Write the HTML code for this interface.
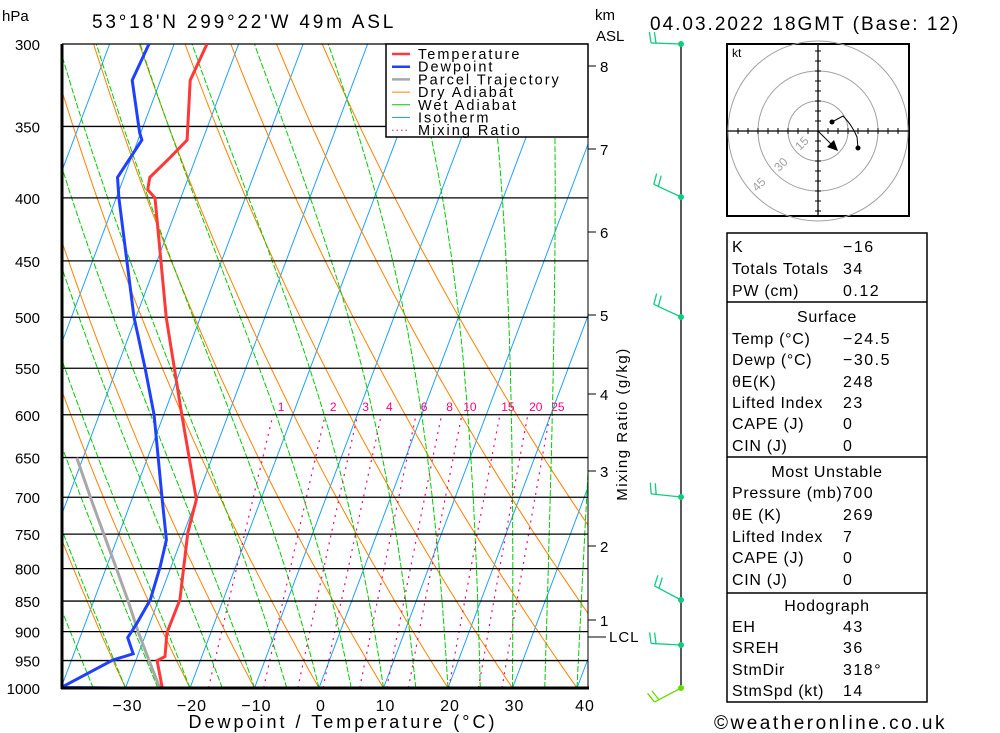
<!DOCTYPE html>
<html><head><meta charset="utf-8">
<style>
html,body{margin:0;padding:0;background:#fff;}
svg{display:block;font-family:"Liberation Sans",sans-serif;}
</style></head>
<body>
<svg id="chart" width="1000" height="733" viewBox="0 0 1000 733" xmlns="http://www.w3.org/2000/svg">
<defs><clipPath id="plotclip"><rect x="62" y="44" width="526" height="644"/></clipPath></defs>
<g id="bg" clip-path="url(#plotclip)"></g>
<g id="grid"></g>
<g id="series" clip-path="url(#plotclip)"></g>
<g id="axes"></g>
<g id="legend"></g>
<g id="winds"></g>
<g id="hodo"></g>
<g id="table"></g>
</svg>
<script>
const pressureLevels=[300,350,400,450,500,550,600,650,700,750,800,850,900,950,1000];
const tempTicks=[-30,-20,-10,0,10,20,30,40];
const tempP=[1000,950,943,902,848,748,703,600,500,400,394,385,371,359,321,300];
const tempT=[-24.3,-26.7,-25.7,-26.8,-26.7,-29.4,-30,-37.2,-45.3,-54,-55.6,-56,-54,-52.4,-55.4,-54.9];
const dewP=[1000,999,949,938,910,886,848,797,758,703,600,550,500,400,385,359,354,321,300];
const dewT=[-30.5,-40,-33.6,-30.8,-32.6,-32.0,-31.3,-31.7,-32.3,-35.3,-41.5,-45.6,-50.3,-59.6,-61,-59.4,-60.2,-64.4,-63.9];
const parcelP=[1000,949,902,848,797,748,703,650];
const parcelT=[-24.7,-28.0,-31.2,-34.8,-38.6,-42.5,-46.3,-51];
const mixRatios=[1,2,3,4,6,8,10,15,20,25];
const dryStarts=[-110,-100,-90,-80,-70,-60,-50,-40,-30,-20,-10,0,10,20,30,40,50,60];
const wetStarts=[-40,-35,-30,-25,-20,-15,-10,-5,0,5,10,15,20,25,30,35,40];
const isoStarts=[-160,-150,-140,-130,-120,-110,-100,-90,-80,-70,-60,-50,-40,-30,-20,-10,0,10,20,30,40];
const kmLabels=["8","7","6","5","4","3","2","1"];
const kmY=[66,149,232,315,394,471,546,620];
const windY=[44,197,317,497,600,645,688];
const windAng=[178,155,155,174,152,177,208];

const NS="http://www.w3.org/2000/svg";
function el(tag,attrs,parent){const e=document.createElementNS(NS,tag);for(const k in attrs)e.setAttribute(k,attrs[k]);parent.appendChild(e);return e;}
function Y(p){return 44+Math.log(p/300)/Math.log(1000/300)*644;}
function X(T,p){return 319+6.45*T+0.376*(688-Y(p));}
function pts(arrP,arrT){return arrP.map((p,i)=>X(arrT[i],p).toFixed(1)+","+Y(p).toFixed(1)).join(" ");}
const bg=document.getElementById('bg'),grid=document.getElementById('grid'),series=document.getElementById('series'),axes=document.getElementById('axes');

isoStarts.forEach(T=>{const l=el('line',{x1:X(T,1000),y1:Y(1000),x2:X(T,300),y2:Y(300),stroke:'#1ea0ff','stroke-width':1},bg);
});
dryStarts.forEach(T0=>{const th=T0+273.15;const a=[];for(let p=1000;p>=300;p-=10){const T=th*Math.pow(p/1000,0.286)-273.15;a.push(X(T,p).toFixed(1)+","+Y(p).toFixed(1));}
const l=el('polyline',{points:a.join(" "),fill:'none',stroke:'#ff8000','stroke-width':1},bg);
});
function es(Tc){return 6.112*Math.exp(17.67*Tc/(Tc+243.5));}
wetStarts.forEach(T0=>{let T=T0+273.15;const a=[];for(let p=1000;p>=300;p-=5){a.push(X(T-273.15,p).toFixed(1)+","+Y(p).toFixed(1));
const e=es(T-273.15),rs=0.622*e/(p-e),Rd=287,Cp=1004,Lv=2.5e6;
const dTdp=(Rd*T+Lv*rs)/(p*(Cp+Lv*Lv*rs*0.622/(Rd*T*T)));T-=dTdp*5;}
const l=el('polyline',{points:a.join(" "),fill:'none',stroke:'#00cc00','stroke-width':1,'stroke-dasharray':'6,2'},bg);
});
mixRatios.forEach(w=>{const a=[];for(let p=1000;p>=600;p-=10){const e=w*p/(622+w);const ln=Math.log(e/6.112);const Td=243.5*ln/(17.67-ln);a.push(X(Td,p).toFixed(1)+","+Y(p).toFixed(1));}
const l=el('polyline',{points:a.join(" "),fill:'none',stroke:'#ff0080','stroke-width':1.2,'stroke-dasharray':'2,5'},bg);

const e=w*600/(622+w);const ln=Math.log(e/6.112);const Td=243.5*ln/(17.67-ln);
const t=el('text',{x:X(Td,600)+8,y:411,'font-size':12,fill:'#ff0080','text-anchor':'middle'},axes);t.textContent=w;
});

pressureLevels.forEach(p=>{const y=Y(p);const l=el('line',{x1:62,x2:588,y1:y,y2:y,stroke:'#000','stroke-width':1.3},grid);

const t=el('text',{x:40,y:y+6,'font-size':15,'text-anchor':'end',fill:'#000'},axes);t.textContent=p;
});

const parcel=el('polyline',{points:pts(parcelP,parcelT),fill:'none',stroke:'#a8a8a8','stroke-width':3},series);

const dew=el('polyline',{points:pts(dewP,dewT),fill:'none',stroke:'#2040ff','stroke-width':3},series);

const tmp=el('polyline',{points:pts(tempP,tempT),fill:'none',stroke:'#ff3838','stroke-width':3},series);


let f=el('line',{x1:62,y1:44,x2:62,y2:689,stroke:'#000','stroke-width':3},axes);
f=el('line',{x1:61,y1:688,x2:589,y2:688,stroke:'#000','stroke-width':3},axes);
f=el('line',{x1:588,y1:44,x2:588,y2:688,stroke:'#000','stroke-width':1},axes);
tempTicks.forEach(T=>{const t=el('text',{x:X(T,1000)+(T===40?8:2),y:711,'font-size':16,'text-anchor':'middle','letter-spacing':'1'},axes);t.textContent=T<0?'\u2212'+(-T):T;
});
kmLabels.forEach((k,i)=>{const l=el('line',{x1:588,x2:596,y1:kmY[i],y2:kmY[i],stroke:'#000'},axes);
const t=el('text',{x:600,y:kmY[i]+6,'font-size':15},axes);t.textContent=k;});
function txt(x,y,s,size,name,extra){const t=el('text',Object.assign({x:x,y:y,'font-size':size},extra||{}),axes);t.textContent=s;return t;}
let lc=el('line',{x1:588,x2:606,y1:637,y2:637,stroke:'#000'},axes);
txt(609,642,'LCL',15,'lcl-label',{'letter-spacing':'1'});
txt(2,21,'hPa',15,'pressure-unit-label');
txt(595,20,'km',15,'km-unit-label');
txt(596,41,'ASL',15,'asl-label');
txt(92,28,"53\u00b018'N  299\u00b022'W  49m  ASL",19,'location-title',{'xml:space':'preserve','letter-spacing':'2.8'});
txt(650,30,'04.03.2022  18GMT  (Base: 12)',19,'date-title',{'xml:space':'preserve','letter-spacing':'2'});
txt(343,728,'Dewpoint / Temperature (\u00b0C)',18,'x-axis-title',{'text-anchor':'middle','letter-spacing':'3'});
txt(627,424,'Mixing Ratio (g/kg)',15,'mixing-ratio-axis-title',{'text-anchor':'middle',transform:'rotate(-90 627 424)','letter-spacing':'1.5'});
txt(714,729,'\u00a9weatheronline.co.uk',19,'copyright',{'letter-spacing':'2.5'});

const lg=document.getElementById('legend');
let lb=el('rect',{x:386,y:44,width:202,height:93,fill:'#fff',stroke:'#000','stroke-width':1.5},lg);
const legNames=['Temperature','Dewpoint','Parcel Trajectory','Dry Adiabat','Wet Adiabat','Isotherm','Mixing Ratio'];
const legCol=['#ff3838','#2040ff','#a8a8a8','#ff8000','#00cc00','#1ea0ff','#ff0080'];
legNames.forEach((n,i)=>{const y=54+i*12.7;const l=el('line',{x1:392,x2:410,y1:y,y2:y,stroke:legCol[i],'stroke-width':i<3?2.5:1,'stroke-dasharray':i===6?'1.5,3':'none'},lg);

const t=el('text',{x:418,y:y+5,'font-size':14.5,'letter-spacing':'2'},lg);t.textContent=n;});

const wg=document.getElementById('winds');
let ax=el('line',{x1:681,x2:681,y1:44,y2:688,stroke:'#000','stroke-width':1.3},wg);
windY.forEach((y,i)=>{const a=windAng[i]*Math.PI/180;const dx=Math.cos(a),dy=-Math.sin(a);const L=30;
const ex=681+dx*L,ey=y+dy*L;
const col=i===6?'#66dd00':'#10cc80';
const s=el('polyline',{points:`681,${y} ${ex},${ey}`,fill:'none',stroke:col,'stroke-width':1.3},wg);
[0,5].forEach(o=>{const bx=ex-dx*o,by=ey-dy*o;let px=dy,py=-dx;if(py>0){px=-px;py=-py;}
const b=el('line',{x1:bx,y1:by,x2:bx+px*11+dx*2,y2:by+py*11+dy*2,stroke:col,'stroke-width':1.3},wg);});
const d=el('circle',{cx:681,cy:y,r:3,fill:col},wg);});

const hg=document.getElementById('hodo');const cx=818,cy=131;
let hb=el('rect',{x:727,y:44,width:182,height:172,fill:'#fff',stroke:'#000','stroke-width':2},hg);
[30,60,90].forEach(r=>{const c=el('circle',{cx:cx,cy:cy,r:r,fill:'none',stroke:'#a0a0a0','stroke-width':1},hg);});
let h1=el('line',{x1:727,x2:909,y1:cy,y2:cy,stroke:'#000','stroke-width':1.3},hg);
let h2=el('line',{x1:cx,x2:cx,y1:44,y2:216,stroke:'#000','stroke-width':1.3},hg);
for(let k=-8;k<=8;k++){if(!k)continue;const tk=el('path',{d:`M${cx+k*10},${cy-3}V${cy+3}M${cx-3},${cy+k*10}H${cx+3}`,stroke:'#000'},hg);}
const ht=el('text',{x:732,y:57,'font-size':12},hg);ht.textContent='kt';
[['15',800,151],['30',779,172],['45',757,192]].forEach(r=>{const t=el('text',{x:r[1],y:r[2],'font-size':12,fill:'#a0a0a0',transform:`rotate(-45 ${r[1]} ${r[2]})`},hg);t.textContent=r[0];});
let hp=el('path',{d:'M832,122 L843,116 Q852,125 857,137 L858,148',fill:'none',stroke:'#000','stroke-width':1},hg);
[[832,122],[858,148]].forEach(p=>{const c=el('circle',{cx:p[0],cy:p[1],r:2.5,fill:'#000'},hg);});
let sm=el('line',{x1:cx,y1:cy,x2:835,y2:148,stroke:'#000','stroke-width':1},hg);
let ah=el('polygon',{points:'838,151 827,147 834,140',fill:'#000'},hg);

const tg=document.getElementById('table');
let tb=el('rect',{x:727,y:233,width:200,height:469,fill:'none',stroke:'#000','stroke-width':1.5},tg);
[302,457,593].forEach(y=>{const l=el('line',{x1:727,x2:927,y1:y,y2:y,stroke:'#000','stroke-width':1.5},tg);});
const rows=[['K','\u221216',246],['Totals Totals','34',268],['PW (cm)','0.12',290],['#Surface','',316],['Temp (\u00b0C)','\u221224.5',338],['Dewp (\u00b0C)','\u221230.5',359],['\u03b8E(K)','248',381],['Lifted Index','23',402],['CAPE (J)','0',423],['CIN (J)','0',445],['#Most Unstable','',471],['Pressure (mb)','700',492],['\u03b8E (K)','269',514],['Lifted Index','7',536],['CAPE (J)','0',557],['CIN (J)','0',579],['#Hodograph','',605],['EH','43',626],['SREH','36',647],['StmDir','318\u00b0',669],['StmSpd (kt)','14',690]];
rows.forEach(r=>{const head=r[0][0]==='#';const t=el('text',{x:head?827:732,y:r[2]+6,'font-size':16,'text-anchor':head?'middle':'start','letter-spacing':'0.7'},tg);t.textContent=head?r[0].slice(1):r[0];

if(!head){const v=el('text',{x:843,y:r[2]+6,'font-size':16,'letter-spacing':'1.5'},tg);v.textContent=r[1];}});
</script>
</body></html>
